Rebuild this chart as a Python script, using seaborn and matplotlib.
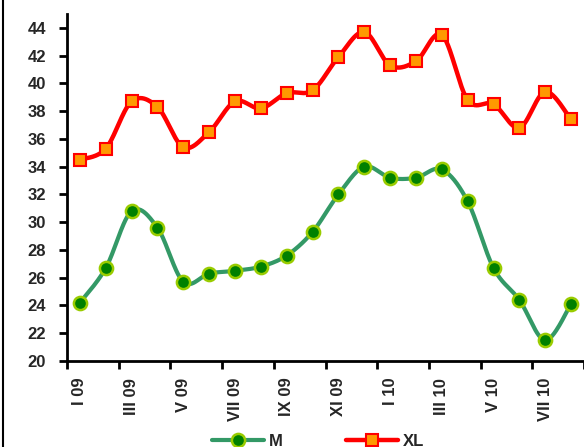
import numpy as np
import pandas as pd
import matplotlib
matplotlib.use("Agg")
import matplotlib.pyplot as plt
from matplotlib.lines import Line2D
import seaborn as sns

months = ["I 09", "II 09", "III 09", "IV 09", "V 09", "VI 09", "VII 09", "VIII 09",
          "IX 09", "X 09", "XI 09", "XII 09", "I 10", "II 10", "III 10", "IV 10",
          "V 10", "VI 10", "VII 10", "VIII 10"]
m_values = [24.2, 26.7, 30.8, 29.6, 25.7, 26.3, 26.5, 26.8, 27.6, 29.3,
            32.0, 34.0, 33.2, 33.2, 33.8, 31.5, 26.7, 24.4, 21.5, 24.1]
xl_values = [34.5, 35.3, 38.7, 38.3, 35.4, 36.5, 38.7, 38.2, 39.3, 39.5,
             41.9, 43.7, 41.3, 41.6, 43.5, 38.8, 38.5, 36.8, 39.4, 37.4]
y_ticks = [20, 22, 24, 26, 28, 30, 32, 34, 36, 38, 40, 42, 44]

sns.set_theme(style="white")
plt.rcParams['font.family'] = ['Liberation Sans', 'DejaVu Sans']
plt.rcParams['font.weight'] = 'bold'


def smooth(x, y, n=30):
    """Excel-like smoothed line via cubic Bezier (Catmull-Rom control points)."""
    pts = np.column_stack([x, y]).astype(float)
    p = np.vstack([pts[0], pts, pts[-1]])
    out = []
    t = np.linspace(0, 1, n)[:, None]
    for i in range(1, len(p) - 2):
        p0, p1, p2, p3 = p[i - 1], p[i], p[i + 1], p[i + 2]
        c1 = p1 + (p2 - p0) / 6.0
        c2 = p2 - (p3 - p1) / 6.0
        seg = ((1 - t) ** 3) * p1 + 3 * ((1 - t) ** 2) * t * c1 + 3 * (1 - t) * t ** 2 * c2 + t ** 3 * p2
        out.append(seg if i == 1 else seg[1:])
    out = np.vstack(out)
    return out[:, 0], out[:, 1]


x = np.arange(len(months))
fig = plt.figure(figsize=(5.84, 4.47), dpi=100)
ax = fig.add_axes([67 / 584, (447 - 361) / 447, 517 / 584, (361 - 14) / 447])

green_line = "#339966"
red_line = "#FF0000"

sx, sy = smooth(x, m_values)
sns.lineplot(x=sx, y=sy, sort=False, ax=ax, color=green_line, lw=3.0, estimator=None)
sx2, sy2 = smooth(x, xl_values)
sns.lineplot(x=sx2, y=sy2, sort=False, ax=ax, color=red_line, lw=3.2, estimator=None)

ax.plot(x, m_values, ls='none', marker='o', ms=9.5, mfc='#008000', mec='#99CC00', mew=1.8, zorder=5)
ax.plot(x, xl_values, ls='none', marker='s', ms=8, mfc='#FF9900', mec='#FF0000', mew=1.5, zorder=5)

ax.set_xlim(-0.5, len(months) - 0.5)
ax.set_ylim(20, 45)
ax.set_yticks(y_ticks)
ax.set_yticklabels([str(v) for v in y_ticks], fontsize=12, fontweight='bold')

ax.set_xticks(x[::2])
ax.set_xticklabels(months[::2], rotation=90, fontsize=12, fontweight='bold')
ax.set_xticks(np.arange(-0.5, len(months), 2), minor=True)
ax.tick_params(axis='x', which='major', length=0, pad=12)
ax.tick_params(axis='x', which='minor', length=6, width=2, color='black', direction='out', bottom=True)
ax.tick_params(axis='y', which='major', length=6, width=2, color='black', direction='out', left=True, pad=9)

for s in ['top', 'right']:
    ax.spines[s].set_visible(False)
for s in ['left', 'bottom']:
    ax.spines[s].set_color('black')
    ax.spines[s].set_linewidth(2)
ax.grid(False)
ax.set_xlabel('')
ax.set_ylabel('')

handles = [
    Line2D([0], [0], color=green_line, lw=3.0, marker='o', ms=9.5, mfc='#008000', mec='#99CC00', mew=1.8),
    Line2D([0], [0], color=red_line, lw=3.2, marker='s', ms=8, mfc='#FF9900', mec='#FF0000', mew=1.5),
]
fig.legend(handles, ['M', 'XL'], loc='center', bbox_to_anchor=(0.545, 1 - 441 / 447), ncol=2,
           frameon=False, handlelength=3.1, columnspacing=3.8, handletextpad=0.3,
           borderpad=0, prop={'size': 12, 'weight': 'bold'})

fig.add_artist(Line2D([3 / 584, 3 / 584], [0, 1], transform=fig.transFigure, color='black', lw=1.5))

fig.savefig("out.png", dpi=100)
